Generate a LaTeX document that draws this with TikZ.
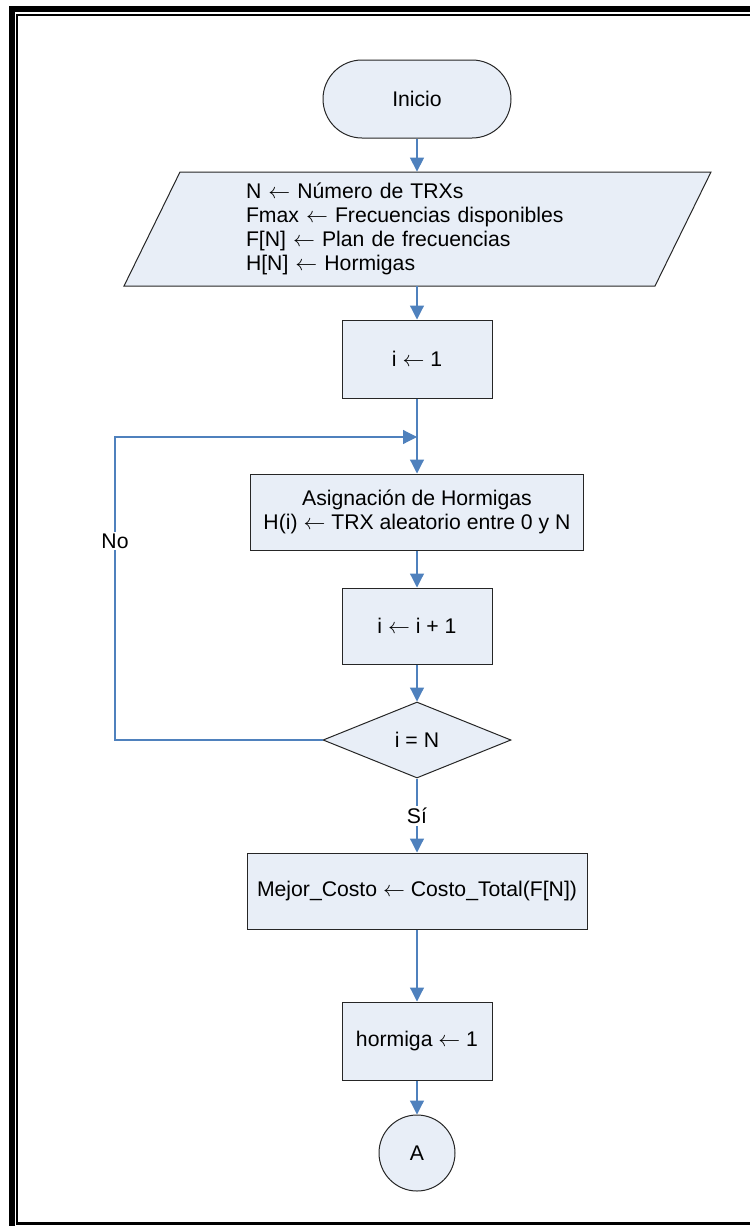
\documentclass[tikz,border=0pt]{standalone}
\usepackage{fontspec}
\setmainfont{Liberation Sans}
\usepackage{xcolor}
\usetikzlibrary{arrows.meta, shapes.geometric}
\definecolor{boxfill}{HTML}{E8EEF7}
\definecolor{flowblue}{HTML}{4F81BD}
\newcommand{\asg}{\ensuremath{\leftarrow}}

\begin{document}
\begin{tikzpicture}[x=0.5pt,y=-0.5pt,
  every node/.style={font=\fontsize{10.6}{12}\selectfont},
  shp/.style={draw=black!85,fill=boxfill,line width=0.5pt},
  procbox/.style={shp,align=center,inner sep=2pt,minimum width=75pt,minimum height=38pt},
  flow/.style={draw=flowblue,line width=0.6pt,-{Triangle[length=7pt,width=7pt]},color=flowblue},
  lbl/.style={fill=white,inner sep=1pt}
]
\useasboundingbox (0,0) rectangle (750,1226);
% page frame
\fill (9,6) rectangle (15,1226);
\fill (9,6) rectangle (750,12);
\fill (16,14) rectangle (18,1225);
\fill (16,14) rectangle (750,16);
\fill (16,1222) rectangle (750,1225);
% shapes
\node[shp,rounded corners=19.5pt,minimum width=94pt,minimum height=39pt] (start) at (417,99) {Inicio};
\draw[shp] (180,172) -- (711,172) -- (655,286) -- (124,286) -- cycle;
\node[align=left,text width=171pt,inner xsep=0pt,inner ysep=0pt,minimum height=57pt] (input) at (417,229)
  {N \asg{} Número de TRXs\\Fmax \asg{} Frecuencias disponibles\\F[N] \asg{} Plan de frecuencias\\H[N] \asg{} Hormigas};
\node[procbox,minimum height=39pt] (init) at (417,359) {i \asg{} 1};
\node[procbox,minimum width=166.5pt] (assign) at (417,512) {Asignación de Hormigas\\H(i) \asg{} TRX aleatorio entre 0 y N};
\node[procbox] (incr) at (417,626) {i \asg{} i + 1};
\node[shp,diamond,minimum width=94pt,minimum height=38pt,shape aspect=2.47,inner sep=0pt] (check) at (417,740) {i = N};
\node[procbox,minimum width=170pt] (best) at (417,891) {Mejor\_Costo \asg{} Costo\_Total(F[N])};
\node[procbox,minimum height=39pt] (ant) at (417,1041) {hormiga \asg{} 1};
\node[shp,circle,minimum size=38pt,inner sep=0pt] (conA) at (417,1153) {A};
% connectors
\coordinate (turn) at (115,437);
\coordinate (join) at (417,437);
\draw[flow] (start) -- (input);
\draw[flow] (input) -- (init);
\draw[flow] (init) -- (assign);
\draw[flow] (assign) -- (incr);
\draw[flow] (incr) -- (check);
\draw[flow] (check) -- (best);
\draw[flow] (best) -- (ant);
\draw[flow] (ant) -- (conA);
\draw[flow] (check.west) -| (turn) -- (join);
\node[lbl] (no) at (115,541) {No};
\node[lbl] (si) at (417,816) {Sí};
\end{tikzpicture}
\end{document}
